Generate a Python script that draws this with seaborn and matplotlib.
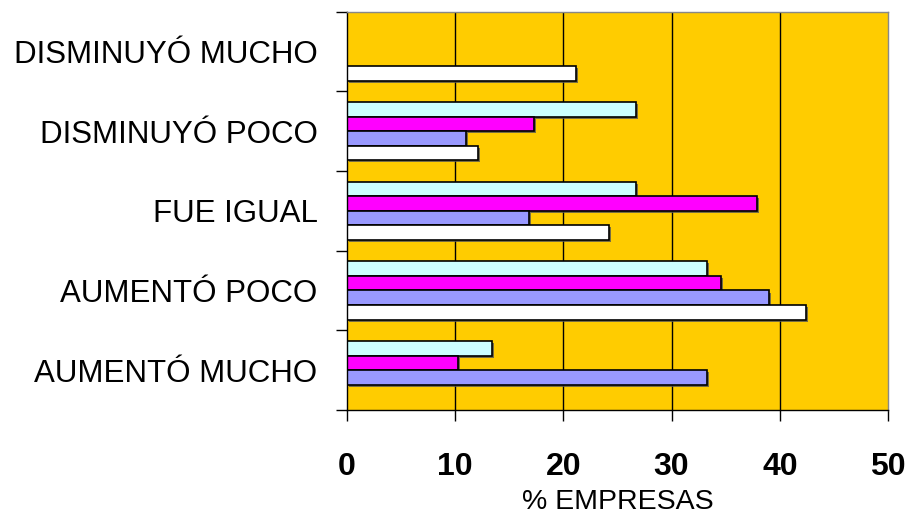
import pandas as pd
import matplotlib
matplotlib.use("Agg")
import matplotlib.pyplot as plt
import matplotlib.patheffects as pe
import seaborn as sns

# data
categorias = ["DISMINUYÓ MUCHO", "DISMINUYÓ POCO", "FUE IGUAL", "AUMENTÓ POCO", "AUMENTÓ MUCHO"]
series = ["Serie 1", "Serie 2", "Serie 3", "Serie 4"]
serie_1 = [0, 26.7, 26.7, 33.3, 13.4]
serie_2 = [0, 17.3, 37.9, 34.6, 10.3]
serie_3 = [0, 11.0, 16.8, 39.0, 33.3]
serie_4 = [21.2, 12.1, 24.2, 42.4, 0]
colores = ["#CCFFFF", "#FF00FF", "#9999FF", "#FFFFFF"]
x_ticks = [0, 10, 20, 30, 40, 50]

rows = []
for name, vals in zip(series, [serie_1, serie_2, serie_3, serie_4]):
    for cat, v in zip(categorias, vals):
        rows.append({"categoria": cat, "serie": name, "valor": v})
df = pd.DataFrame(rows)

sns.set_theme(style="white")
plt.rcParams["font.family"] = ["Liberation Sans", "DejaVu Sans"]
plt.rcParams["text.color"] = "black"
plt.rcParams["xtick.color"] = "black"
plt.rcParams["ytick.color"] = "black"
plt.rcParams["axes.labelcolor"] = "black"

fig = plt.figure(figsize=(9.1, 5.18), dpi=100)
ax = fig.add_axes([0.381, 0.2085, 0.595, 0.769])
ax.set_facecolor("#FFCC00")

sns.barplot(data=df, y="categoria", x="valor", hue="serie", order=categorias,
            hue_order=series, palette=colores, orient="h", width=0.73,
            edgecolor="black", linewidth=1.2, saturation=1, legend=False, ax=ax)

# drop shadow like the original chart
for bar in ax.patches:
    if bar.get_width() > 0:
        bar.set_path_effects([pe.SimplePatchShadow(offset=(1.5, -1.5), shadow_rgbFace="#555555", alpha=0.8), pe.Normal()])
    else:
        bar.set_visible(False)

ax.set_xlim(0, 50)
ax.set_ylim(4.5, -0.5)
ax.set_xticks(x_ticks)
ax.set_xticklabels([str(t) for t in x_ticks], fontsize=23, fontweight="bold")
for t in x_ticks[1:-1]:
    ax.axvline(t, color="black", linewidth=1, zorder=0.5)
ax.set_axisbelow(True)

ax.set_yticks(range(len(categorias)))
ax.set_yticklabels(categorias, fontsize=22.5)
ax.set_yticks([i - 0.5 for i in range(len(categorias) + 1)], minor=True)
ax.tick_params(axis="y", which="major", length=0, pad=21)
ax.tick_params(axis="y", which="minor", length=8, width=1, color="black", direction="out", left=True)
ax.tick_params(axis="x", length=8, width=1, color="black", direction="out", bottom=True, pad=22)

ax.set_xlabel("% EMPRESAS", fontsize=20.5, labelpad=5)
ax.set_ylabel("")

for side in ["left", "bottom"]:
    ax.spines[side].set_color("black")
    ax.spines[side].set_linewidth(1)
for side in ["top", "right"]:
    ax.spines[side].set_color("#888888")
    ax.spines[side].set_linewidth(1)

fig.savefig("out.png", dpi=100)
